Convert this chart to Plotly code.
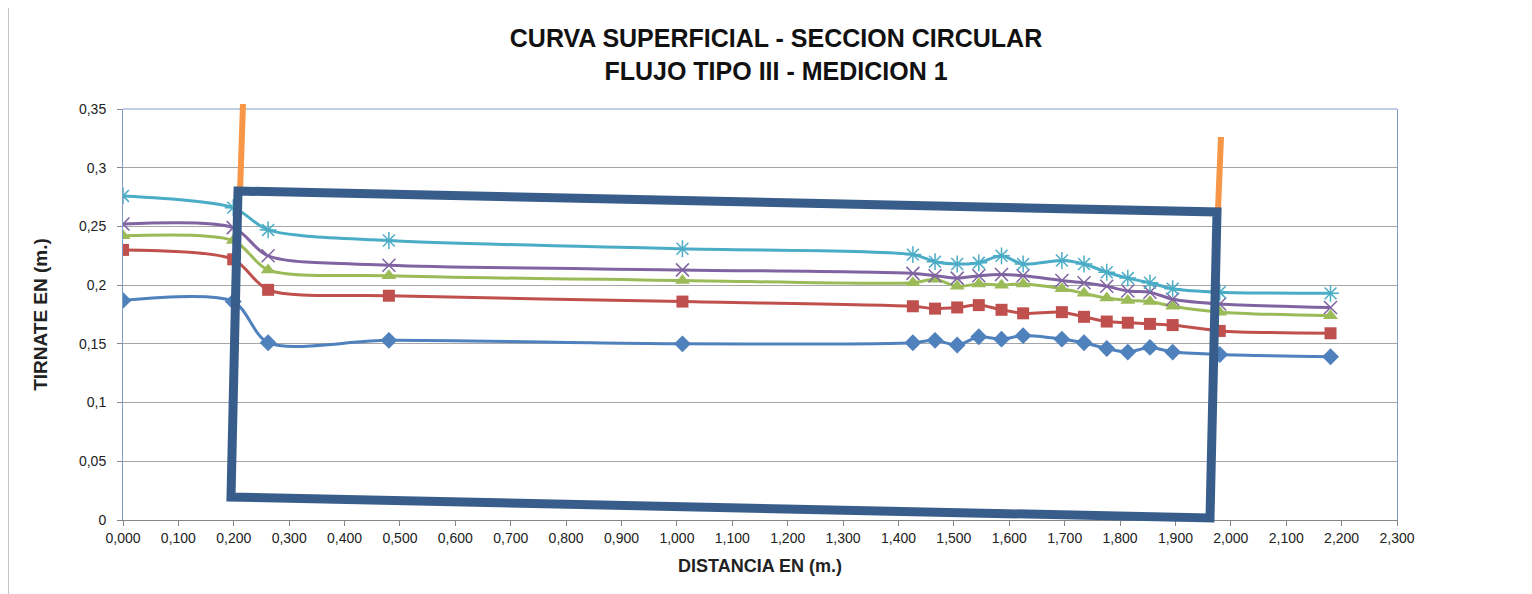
import plotly.graph_objects as go

distancia = [0.000, 0.199, 0.262, 0.480, 1.010, 1.426, 1.466, 1.506, 1.545, 1.586,
             1.625, 1.695, 1.735, 1.776, 1.814, 1.854, 1.895, 1.980, 2.180]

serie_1 = [0.187, 0.186, 0.151, 0.153, 0.150, 0.151, 0.153, 0.149, 0.156, 0.154,
           0.157, 0.154, 0.151, 0.146, 0.143, 0.147, 0.143, 0.141, 0.139]
serie_2 = [0.230, 0.222, 0.196, 0.191, 0.186, 0.182, 0.180, 0.181, 0.183, 0.179,
           0.176, 0.177, 0.173, 0.169, 0.168, 0.167, 0.166, 0.161, 0.159]
serie_3 = [0.242, 0.238, 0.213, 0.208, 0.204, 0.202, 0.205, 0.199, 0.201, 0.200,
           0.201, 0.197, 0.193, 0.189, 0.187, 0.186, 0.182, 0.177, 0.174]
serie_4 = [0.252, 0.249, 0.225, 0.217, 0.213, 0.210, 0.208, 0.206, 0.208, 0.209,
           0.208, 0.204, 0.202, 0.199, 0.195, 0.194, 0.188, 0.184, 0.181]
serie_5 = [0.276, 0.266, 0.247, 0.238, 0.231, 0.226, 0.220, 0.218, 0.219, 0.225,
           0.218, 0.221, 0.218, 0.211, 0.206, 0.202, 0.197, 0.194, 0.193]

x_ticks = [i / 10 for i in range(0, 24)]
x_ticktext = [("%.3f" % v).replace(".", ",") for v in x_ticks]
y_ticks = [0, 0.05, 0.1, 0.15, 0.2, 0.25, 0.3, 0.35]
y_ticktext = ["0", "0,05", "0,1", "0,15", "0,2", "0,25", "0,3", "0,35"]

series = [
    (serie_1, "#4F81BD", dict(symbol="diamond", size=13)),
    (serie_2, "#C0504D", dict(symbol="square", size=12)),
    (serie_3, "#9BBB59", dict(symbol="triangle-up", size=13)),
    (serie_4, "#8064A2", dict(symbol="x-thin-open", size=13, line=dict(width=1.5, color="#8064A2"))),
    (serie_5, "#4BACC6", dict(symbol="asterisk-open", size=14, line=dict(width=1.5, color="#4BACC6"))),
]

fig = go.Figure()
for vals, col, mk in series:
    mk = dict(mk)
    mk["color"] = col
    fig.add_trace(go.Scatter(
        x=distancia, y=vals, mode="lines+markers",
        line=dict(color=col, width=3, shape="spline", smoothing=0.8),
        marker=mk, showlegend=False))

# target plot area (screen px): left 123 right 1397, top 109 bottom 520
def px(xpix):
    return (xpix - 123) / 1274.0

def py(ypix):
    return (520 - ypix) / 411.0

shapes = []
shapes.append(dict(type="line", xref="paper", yref="paper",
                   x0=px(8), x1=px(8), y0=py(0), y1=py(600),
                   line=dict(color="#8c8c8c", width=1), layer="below"))
shapes.append(dict(type="line", xref="paper", yref="paper",
                   x0=0, x1=1, y0=1, y1=1,
                   line=dict(color="#7f9dc6", width=1), layer="below"))
shapes.append(dict(type="line", xref="paper", yref="paper",
                   x0=px(243), y0=py(104), x1=px(240), y1=py(192),
                   line=dict(color="#F79646", width=6)))
shapes.append(dict(type="line", xref="paper", yref="paper",
                   x0=px(1221), y0=py(137), x1=px(1218), y1=py(210),
                   line=dict(color="#F79646", width=6)))
path = "M {} {} L {} {} L {} {} L {} {} Z".format(
    px(238), py(191), px(1217), py(212), px(1210), py(518), px(231), py(497))
shapes.append(dict(type="path", xref="paper", yref="paper", path=path,
                   line=dict(color="#385D8A", width=9)))

# page body has an 8px margin: compensate
fig.update_layout(
    width=1532, height=594,
    paper_bgcolor="white", plot_bgcolor="white",
    margin=dict(l=115, r=143, t=101, b=82),
    font=dict(family="Liberation Sans, Arial, sans-serif", color="#222222"),
    title=dict(text="<b>CURVA SUPERFICIAL - SECCION CIRCULAR<br>FLUJO TIPO III - MEDICION 1</b>",
               x=(776 - 8) / 1532, xanchor="center", y=1 - 39 / 594, yanchor="top",
               font=dict(size=25, color="#111111", family="Liberation Sans Narrow, Liberation Sans, Arial")),
    shapes=shapes,
)

fig.update_xaxes(range=[0, 2.3], tickvals=x_ticks, ticktext=x_ticktext,
                 showgrid=False, zeroline=False, showline=True, linecolor="#868686",
                 linewidth=1, ticks="outside", ticklen=5, tickcolor="#868686",
                 tickfont=dict(size=14),
                 title=dict(text="<b>DISTANCIA EN (m.)</b>", font=dict(size=18), standoff=14))
fig.update_yaxes(range=[0, 0.35], tickvals=y_ticks, ticktext=y_ticktext,
                 showgrid=True, gridcolor="#a6a6a6", gridwidth=1, zeroline=False,
                 showline=True, linecolor="#7f9dc6", mirror=True, linewidth=1,
                 ticks="outside", ticklen=5, tickcolor="#868686",
                 tickfont=dict(size=14), ticklabelstandoff=8,
                 title=dict(text="<b>TIRNATE EN (m.)</b>", font=dict(size=19), standoff=26))

fig.write_html("out.html")
